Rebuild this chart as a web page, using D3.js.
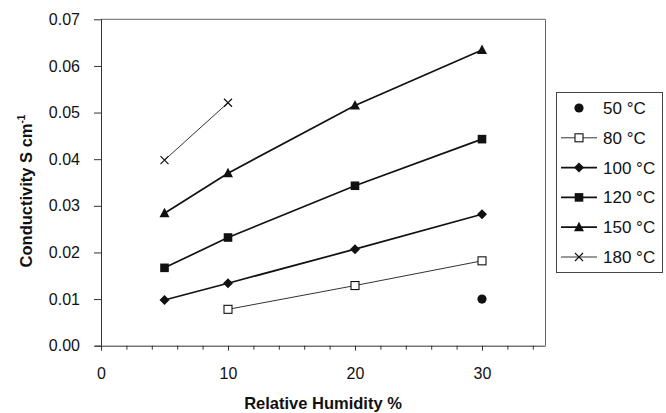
<!DOCTYPE html>
<html>
<head>
<meta charset="utf-8">
<script src="https://cdn.jsdelivr.net/npm/d3@7"></script>
<style>
  html, body { margin: 0; padding: 0; background: #fff; }
  svg { display: block; font-family: "Liberation Sans", Arial, Helvetica, sans-serif; }
</style>
</head>
<body>
<svg id="chart" width="666" height="413"></svg>
<script>
// Relative humidity (%) at which conductivity was measured
const humidity = [5, 10, 20, 30];

// Series names (temperature)
const temps = ["50 °C", "80 °C", "100 °C", "120 °C", "150 °C", "180 °C"];

// Conductivity (S cm-1) per temperature, aligned with `humidity`; null = not measured
const c50  = [null,   null,   null,   0.0100];
const c80  = [null,   0.0078, 0.0129, 0.0182];
const c100 = [0.0098, 0.0134, 0.0207, 0.0282];
const c120 = [0.0167, 0.0232, 0.0343, 0.0443];
const c150 = [0.0284, 0.0370, 0.0515, 0.0634];
const c180 = [0.0398, 0.0521, null,   null];

// Axis ticks
const xTicks = [0, 10, 20, 30];
const xMinorTicks = [2, 4, 6, 8, 12, 14, 16, 18, 22, 24, 26, 28, 32, 34];
const yTicks = [0, 0.01, 0.02, 0.03, 0.04, 0.05, 0.06, 0.07];

const values = [c50, c80, c100, c120, c150, c180];
const markers = ["circle", "openSquare", "diamond", "square", "triangle", "cross"];
const lineWidths = [0, 1, 1.7, 1.7, 1.7, 1];
const lineColors = ["#111", "#333", "#111", "#111", "#111", "#333"];

const svg = d3.select("#chart");
const ink = "#111";

const x = d3.scaleLinear().domain([0, 35]).range([101, 545.5]);
const y = d3.scaleLinear().domain([0, 0.07]).range([345.7, 19.3]);

// Plot frame (top and right edges)
svg.append("path")
  .attr("d", `M${x(0)},${y(0.07)}H${x(35)}V${y(0)}`)
  .attr("fill", "none").attr("stroke", "#666").attr("stroke-width", 1);

// X axis
const xAxis = svg.append("g").attr("transform", `translate(0,${y(0)})`);
xAxis.call(d3.axisBottom(x).tickValues(xMinorTicks).tickSize(4).tickFormat(""))
  .call(g => g.select(".domain").remove());
xAxis.append("g").call(d3.axisBottom(x).tickValues(xTicks).tickSize(5).tickPadding(17)
    .tickFormat(d3.format("d")).tickSizeOuter(0))
  .call(g => g.selectAll("text").attr("font-size", 16).attr("fill", ink)
     .attr("font-family", "'Liberation Sans', Arial, sans-serif"));
xAxis.selectAll("line, path").attr("stroke", "#333");
xAxis.select(".domain").attr("d", `M${x(0) - 6},0.5H${x(35)}`);

// Y axis
const yAxis = svg.append("g").attr("transform", `translate(${x(0)},0)`)
  .call(d3.axisLeft(y).tickValues(yTicks).tickSize(7).tickPadding(14)
    .tickFormat(d3.format(".2f")).tickSizeOuter(0));
yAxis.selectAll("text").attr("font-size", 16).attr("fill", ink)
  .attr("font-family", "'Liberation Sans', Arial, sans-serif");
yAxis.selectAll("line, path").attr("stroke", "#333");
yAxis.select(".domain").attr("d", `M0.5,${y(0.07)}V${y(0) + 4}`);

// Axis titles
svg.append("text")
  .attr("x", 323).attr("y", 409)
  .attr("text-anchor", "middle")
  .attr("font-size", 16.5).attr("font-weight", "bold").attr("fill", ink)
  .text("Relative Humidity %");

const yTitle = svg.append("text")
  .attr("transform", "translate(32,191) rotate(-90)")
  .attr("text-anchor", "middle")
  .attr("font-size", 16.5).attr("font-weight", "bold").attr("fill", ink);
yTitle.append("tspan").text("Conductivity S cm");
yTitle.append("tspan").attr("dy", -7).attr("font-size", 10).text("-1");

// Marker drawing
function drawMarker(g, type, cx, cy) {
  switch (type) {
    case "circle":
      g.append("circle").attr("cx", cx).attr("cy", cy).attr("r", 4.6).attr("fill", ink);
      break;
    case "openSquare":
      g.append("rect").attr("x", cx - 4).attr("y", cy - 4).attr("width", 8).attr("height", 8)
        .attr("fill", "#fff").attr("stroke", ink).attr("stroke-width", 1.1);
      break;
    case "diamond":
      g.append("path").attr("d", `M${cx},${cy - 5}L${cx + 5},${cy}L${cx},${cy + 5}L${cx - 5},${cy}Z`)
        .attr("fill", ink);
      break;
    case "square":
      g.append("rect").attr("x", cx - 4.3).attr("y", cy - 4.3).attr("width", 8.6).attr("height", 8.6)
        .attr("fill", ink);
      break;
    case "triangle":
      g.append("path").attr("d", `M${cx},${cy - 5.5}L${cx + 5},${cy + 4}L${cx - 5},${cy + 4}Z`)
        .attr("fill", ink);
      break;
    case "cross":
      g.append("path").attr("d", `M${cx - 4},${cy - 4}L${cx + 4},${cy + 4}M${cx - 4},${cy + 4}L${cx + 4},${cy - 4}`)
        .attr("stroke", ink).attr("stroke-width", 1.2).attr("fill", "none");
      break;
  }
}

// Series lines and markers
const line = d3.line()
  .defined(d => d[1] != null)
  .x(d => x(d[0])).y(d => y(d[1]));

values.forEach((vals, i) => {
  const pts = humidity.map((h, j) => [h, vals[j]]);
  const g = svg.append("g");
  if (lineWidths[i] > 0) {
    g.append("path").datum(pts).attr("d", line)
      .attr("fill", "none").attr("stroke", lineColors[i]).attr("stroke-width", lineWidths[i]);
  }
  pts.filter(p => p[1] != null).forEach(p => drawMarker(g, markers[i], x(p[0]), y(p[1])));
});

// Legend
const legend = svg.append("g");
legend.append("rect")
  .attr("x", 556.5).attr("y", 92.5).attr("width", 106).attr("height", 180)
  .attr("fill", "#fff").attr("stroke", "#444").attr("stroke-width", 1);
temps.forEach((t, i) => {
  const ly = 108 + i * 29.8;
  const g = legend.append("g");
  if (lineWidths[i] > 0) {
    g.append("line").attr("x1", 561).attr("x2", 597).attr("y1", ly).attr("y2", ly)
      .attr("stroke", lineColors[i]).attr("stroke-width", lineWidths[i]);
  }
  drawMarker(g, markers[i], 579, ly);
  g.append("text").attr("x", 603).attr("y", ly + 6)
    .attr("font-size", 17).attr("fill", ink).text(t);
});
</script>
</body>
</html>
